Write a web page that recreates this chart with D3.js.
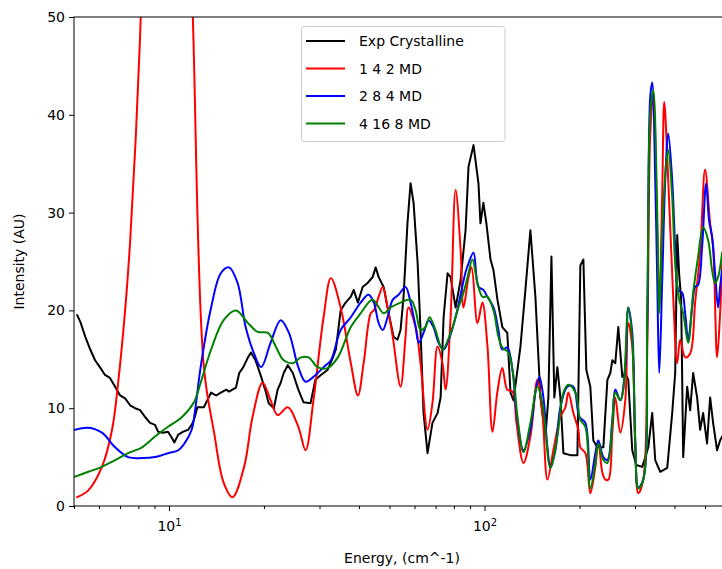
<!DOCTYPE html>
<html><head><meta charset="utf-8">
<script src="https://cdn.jsdelivr.net/npm/d3@7"></script>
<style>
html,body{margin:0;padding:0;background:#fff;}
svg{display:block;font-family:"DejaVu Sans",sans-serif;}
</style></head>
<body><svg id="chart" width="722" height="569"></svg>
<script>
// ---------- DATA ----------
const seriesNames = ["Exp Crystalline", "1 4 2 MD", "2 8 4 MD", "4 16 8 MD"];
const seriesColors = ["#000000", "#ff0000", "#0000ff", "#008000"];

const expEnergy = [5.12,5.24,5.43,5.63,5.83,6.04,6.27,6.50,6.75,7.00,7.26,7.53,7.81,8.10,8.40,8.71,9.03,9.23,9.57,9.93,10.2,10.4,10.7,11.1,11.5,11.8,12.0,12.3,12.9,13.6,14.1,14.6,15.2,15.5,16.3,16.7,17.2,17.8,18.2,18.8,19.6,20.3,20.7,21.5,22.1,22.6,23.1,23.8,24.7,25.7,26.7,28.1,29.1,30.3,31.8,33.0,33.8,35.0,36.3,37.7,38.5,39.7,41.1,42.6,44.2,45.2,46.2,47.9,49.7,51.5,53.0,54.2,55.4,57.0,58.3,59.6,61.4,62.7,64.1,66.0,68.4,71.0,72.6,74.2,76.4,78.1,81.0,84.0,87.1,89.0,92.3,95.7,97.1,99.2,101.4,104.5,106.8,109.9,113.9,118.1,120.9,123.6,130.0,134.8,139.8,145.0,150.4,156.0,159.4,163.0,166.5,170.2,174.0,177.9,187.2,197.0,201.3,205.8,210.3,216.5,221.3,227.9,238.1,245.2,250.5,254.2,259.8,265.5,273.4,279.4,285.6,294.0,302.7,316.3,330.5,340.1,347.7,360.6,379.5,393.5,402.2,408.2,414.2,420.1,426.4,438.9,448.6,458.5,472.0,482.5,493.1,507.5,519.0,530.4,546.1,558.2,566.4];
const expIntensity = [19.5,18.8,17.3,16.0,14.9,14.2,13.4,13.1,12.2,11.3,11.0,10.3,10.0,9.8,9.1,8.5,8.3,7.6,7.5,7.6,7.0,6.5,7.3,7.6,7.8,8.3,8.8,10.1,10.1,11.6,11.3,11.6,11.9,11.7,12.1,13.6,14.2,15.2,15.7,14.9,13.2,11.6,10.5,10.0,11.9,12.6,13.6,14.4,13.6,11.9,10.6,10.5,12.9,13.4,13.9,15.1,16.0,20.0,20.8,21.4,22.1,20.8,22.4,22.8,23.4,24.4,23.4,22.4,19.7,17.3,17.0,18.0,21.4,28.9,33.0,31.0,24.8,18.0,9.5,5.4,8.5,9.5,11.1,19.3,23.8,23.4,20.3,23.1,28.2,34.7,36.9,33.0,28.9,31.0,28.9,25.2,24.1,21.1,18.3,17.7,11.6,10.8,16.3,22.1,28.2,21.4,11.1,7.1,11.1,25.5,11.1,14.2,11.1,5.4,5.2,5.2,24.6,25.2,13.9,12.2,6.7,6.0,6.0,12.9,13.6,14.9,14.6,18.3,13.2,13.6,12.9,5.7,4.2,4.0,6.0,9.5,4.7,3.5,3.9,9.5,13.6,27.7,23.6,21.1,5.0,12.2,9.8,13.6,11.1,7.8,9.5,6.4,11.1,8.5,5.7,6.7,7.1];

const md142Energy = [5.12,5.55,6.13,6.60,6.90,7.26,7.53,7.81,8.10,8.58,9.10,9.78,10.5,11.3,11.9,12.9,13.9,14.9,15.9,17.3,18.4,19.8,21.0,22.1,23.8,25.7,27.1,28.7,30.9,32.6,35.0,37.7,39.7,41.4,43.6,44.6,46.2,47.6,49.3,51.2,54.2,56.2,57.4,60.5,62.7,66.0,68.4,71.0,73.6,75.3,78.1,81.0,84.0,85.8,89.0,91.0,95.0,98.5,102.1,106.0,109.9,113.9,118.1,122.7,126.3,132.9,139.8,147.1,152.6,158.3,165.3,174.0,180.5,184.5,191.3,198.4,201.3,208.8,216.5,224.6,229.5,236.4,241.6,247.0,254.2,259.8,269.4,279.4,285.6,294.0,300.5,307.2,318.6,328.1,335.2,342.6,352.8,358.0,365.9,371.3,382.3,396.4,408.2,417.1,432.6,448.6,465.2,482.5,500.2,519.0,530.4,546.1,558.2,566.4];
const md142Intensity = [0.9,1.6,4.0,7.8,12.6,20.0,27.0,36.4,48.0,75,105,120,105,72,50,14.2,7.5,2.4,0.9,4.0,9.1,12.6,10.8,9.3,10.1,8.1,5.7,10.8,19.3,23.3,20.3,14.6,11.3,14.6,19.7,20.0,21.4,22.4,20.3,17.3,12.2,17.3,20.3,18.3,14.6,7.8,10.5,16.3,14.6,11.9,19.3,32.3,26.2,20.3,23.4,24.4,18.7,20.8,16.5,7.6,11.7,14.1,11.9,11.7,8.5,4.4,7.1,12.9,9.5,2.7,5.7,9.1,10.1,11.6,9.5,7.8,6.0,5.4,1.3,4.0,6.7,3.4,2.7,2.7,7.5,11.1,7.5,10.8,18.7,16.3,6.0,1.3,2.7,16.3,38.0,42.0,28.0,20.0,32.0,41.3,33.3,21.4,14.6,17.0,15.2,15.6,20.8,25.9,34.4,28.9,26.5,15.2,19.7,24.8];

const md284Energy = [5.04,5.55,6.13,6.75,7.42,8.22,9.03,9.93,10.7,11.2,11.8,12.1,12.6,13.6,14.6,15.5,16.5,17.5,18.6,19.6,21.0,22.6,24.0,25.7,27.1,28.7,30.9,32.6,35.0,37.7,40.5,42.9,44.6,46.2,47.6,49.3,51.2,53.4,56.2,58.3,60.5,61.9,64.1,66.5,68.9,71.5,74.2,77.0,81.0,84.0,87.1,89.0,92.3,95.7,99.2,102.1,106.8,110.7,113.9,118.1,122.7,126.3,132.9,139.8,145.0,149.3,153.7,158.3,161.8,167.8,174.0,183.1,191.3,199.9,208.8,216.5,224.6,229.5,238.1,245.2,254.2,259.8,269.4,279.4,285.6,294.0,300.5,307.2,318.6,328.1,335.2,340.1,347.7,352.8,358.0,365.9,374.0,382.3,393.5,402.2,411.2,423.2,432.6,442.2,455.2,465.2,475.4,489.5,503.9,515.0,526.6,538.2,550.1,558.2,566.4];
const md284Intensity = [7.8,8.0,7.5,6.0,5.0,4.9,5.0,5.4,5.7,6.4,7.8,9.8,14.2,20.3,23.8,24.4,22.8,18.3,15.6,14.2,16.7,19.0,17.7,14.2,12.7,13.2,14.2,14.9,18.0,19.3,20.8,21.6,20.8,18.7,18.0,19.3,21.1,21.6,22.4,20.8,18.3,16.7,17.7,19.0,18.3,16.7,16.0,17.0,19.3,21.6,23.9,24.8,25.9,22.4,22.1,21.4,20.3,18.0,16.0,16.2,13.9,9.5,5.7,7.8,11.6,13.2,11.1,6.0,4.0,5.7,10.1,12.2,12.2,9.1,8.5,2.7,5.4,6.7,5.0,4.7,8.8,11.9,10.8,14.2,20.3,17.7,6.7,1.9,2.7,19.7,41.8,43.3,33.3,23.1,13.6,23.1,33.3,38.1,33.3,26.5,22.1,21.8,19.7,17.0,20.3,22.4,22.6,26.5,33.0,29.2,27.5,23.8,20.3,22.4,24.1];

const md4168Energy = [5.04,5.55,6.13,6.75,7.42,8.22,9.03,9.93,11.0,12.0,12.6,13.6,14.9,16.3,17.8,19.1,20.6,21.8,23.1,24.7,26.2,27.7,29.6,31.8,34.3,37.7,40.5,44.2,47.9,50.4,54.2,58.3,60.5,62.7,65.0,67.0,69.9,73.6,78.1,82.1,85.8,88.4,91.6,95.0,98.5,102.1,106.8,110.7,113.9,119.0,123.6,127.2,132.9,139.8,147.1,152.6,161.8,170.2,177.9,184.5,194.1,201.3,208.8,216.5,224.6,229.5,238.1,245.2,254.2,259.8,269.4,275.4,285.6,294.0,300.5,307.2,318.6,328.1,335.2,342.6,352.8,358.0,365.9,376.7,382.3,393.5,402.2,414.2,426.4,442.2,458.5,475.4,493.1,511.3,526.6,538.2,550.1,566.4];
const md4168Intensity = [3.0,3.5,4.0,4.7,5.4,6.0,7.1,8.1,9.1,10.6,12.6,16.0,19.0,20.0,18.7,17.8,17.7,16.3,14.9,14.6,15.2,15.2,14.2,14.1,15.2,18.3,19.7,21.1,19.7,20.3,20.8,21.1,20.0,18.0,18.3,19.3,18.0,16.0,17.7,20.0,21.8,23.4,25.2,22.8,21.4,21.4,20.0,17.3,16.2,15.7,13.2,9.1,5.5,8.5,12.2,10.5,3.9,7.1,11.6,12.4,11.6,8.8,8.1,1.8,4.4,6.4,4.7,4.4,8.5,11.6,10.8,11.9,20.3,17.0,6.7,1.8,2.7,19.7,40.2,42.5,30.0,19.7,28.2,35.1,36.4,31.6,24.8,21.1,19.7,16.7,21.8,25.5,28.5,27.2,24.1,22.8,23.4,25.9];

const xDomain = [5, 600];
const yDomain = [0, 50];
const yTicks = [0, 10, 20, 30, 40, 50];
const xMajorTicks = [10, 100];
const xMinorTicks = [5, 6, 7, 8, 9, 20, 30, 40, 50, 60, 70, 80, 90, 200, 300, 400, 500];
const xLabel = "Energy, (cm^-1)";
const yLabel = "Intensity (AU)";

// ---------- DRAW ----------
const svg = d3.select("#chart");
const L = 74, R = 730, T = 17, B = 506;
const x = d3.scaleLog().domain(xDomain).range([L, R]);
const y = d3.scaleLinear().domain(yDomain).range([B, T]);

svg.append("rect").attr("width", 722).attr("height", 569).attr("fill", "#fff");

svg.append("defs").append("clipPath").attr("id", "clip")
  .append("rect").attr("x", L).attr("y", T).attr("width", R - L).attr("height", B - T);

const series = [
  {E: expEnergy, I: expIntensity, curve: d3.curveLinear},
  {E: md142Energy, I: md142Intensity, curve: d3.curveCatmullRom.alpha(0.5)},
  {E: md284Energy, I: md284Intensity, curve: d3.curveCatmullRom.alpha(0.5)},
  {E: md4168Energy, I: md4168Intensity, curve: d3.curveCatmullRom.alpha(0.5)}
];

const g = svg.append("g").attr("clip-path", "url(#clip)");
series.forEach((s, i) => {
  const pts = s.E.map((e, k) => [e, s.I[k]]);
  const line = d3.line().x(d => x(d[0])).y(d => y(d[1])).curve(s.curve);
  g.append("path").attr("d", line(pts)).attr("fill", "none")
    .attr("stroke", seriesColors[i]).attr("stroke-width", 2)
    .attr("stroke-linejoin", "round").attr("stroke-linecap", "square");
});

// axes
const fs = 14;
const yAxis = d3.axisLeft(y).tickValues(yTicks).tickSize(5).tickPadding(4).tickFormat(d3.format("d"));
const ya = svg.append("g").attr("transform", `translate(${L},0)`).call(yAxis);
const xMaj = d3.axisBottom(x).tickValues(xMajorTicks).tickSize(5).tickPadding(5).tickFormat(() => "");
const xa = svg.append("g").attr("transform", `translate(0,${B})`).call(xMaj);
const xMin = d3.axisBottom(x).tickValues(xMinorTicks).tickSize(3).tickFormat(() => "");
const xm = svg.append("g").attr("transform", `translate(0,${B})`).call(xMin);
[ya, xa, xm].forEach(a => {
  a.select(".domain").remove();
  a.selectAll("line").attr("stroke", "#000").attr("stroke-width", 1);
  a.selectAll("text").attr("font-size", fs).attr("font-family", "DejaVu Sans").attr("fill", "#000");
});
xa.selectAll(".tick text").each(function(d) {
  const t = d3.select(this);
  t.text(null).attr("dy", "1.05em");
  t.append("tspan").text("10");
  t.append("tspan").attr("dy", "-0.45em").attr("font-size", 10).text(Math.round(Math.log10(d)));
});

// spines
svg.append("rect").attr("x", L).attr("y", T).attr("width", R - L).attr("height", B - T)
  .attr("fill", "none").attr("stroke", "#000").attr("stroke-width", 1);

// labels
svg.append("text").attr("x", (L + R) / 2).attr("y", 563).attr("text-anchor", "middle")
  .attr("font-size", fs).attr("fill", "#000").text(xLabel);
svg.append("text").attr("transform", `translate(24,${(T + B) / 2}) rotate(-90)`)
  .attr("text-anchor", "middle").attr("font-size", fs).attr("fill", "#000").text(yLabel);

// legend
const lg = svg.append("g");
lg.append("rect").attr("x", 301.5).attr("y", 26.5).attr("width", 203.5).attr("height", 115)
  .attr("rx", 3).attr("fill", "#fff").attr("fill-opacity", 0.8).attr("stroke", "#cccccc");
seriesNames.forEach((n, i) => {
  const cy = 41 + i * 27.5;
  lg.append("line").attr("x1", 306).attr("x2", 345).attr("y1", cy).attr("y2", cy)
    .attr("stroke", seriesColors[i]).attr("stroke-width", 2);
  lg.append("text").attr("x", 359).attr("y", cy + 5).attr("font-size", fs).attr("fill", "#000").text(n);
});
</script></body></html>
